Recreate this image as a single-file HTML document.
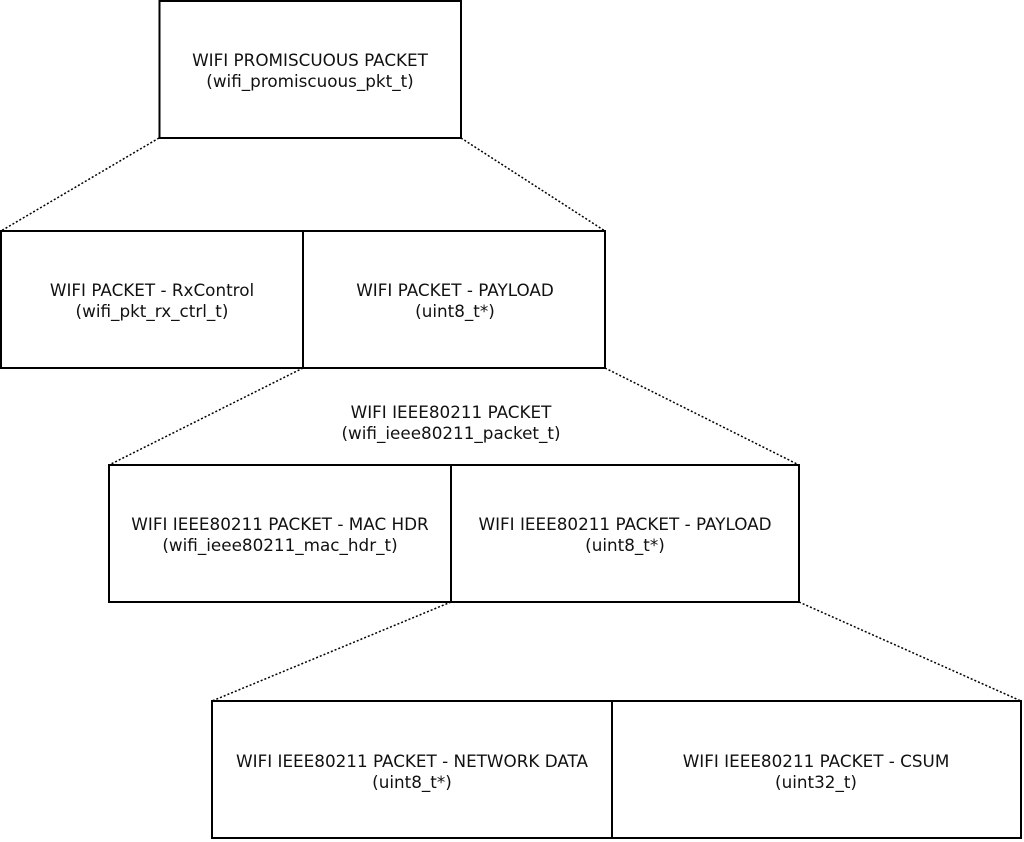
<!DOCTYPE html>
<html><head><style>
html,body{margin:0;padding:0;background:#fff;}
svg{display:block;}
text{font-family:"DejaVu Sans","Liberation Sans",sans-serif;font-size:16.8px;fill:#111;text-anchor:middle;}
</style></head><body>
<svg width="1024" height="842" viewBox="0 0 1024 842" xmlns="http://www.w3.org/2000/svg">
<g fill="none" stroke="#000" stroke-width="2">
<rect x="159.5" y="1" width="301.5" height="137"/>
<rect x="1" y="231" width="302" height="137"/>
<rect x="303" y="231" width="302" height="137"/>
<rect x="109" y="465" width="342" height="137"/>
<rect x="451" y="465" width="348" height="137"/>
<rect x="212" y="701" width="400" height="137"/>
<rect x="612" y="701" width="409" height="137"/>
</g>
<g stroke="#000" stroke-width="1.5" stroke-dasharray="2,2" fill="none">
<line x1="159" y1="138" x2="1" y2="231"/>
<line x1="461" y1="138" x2="605" y2="231"/>
<line x1="303" y1="368" x2="109" y2="465"/>
<line x1="605" y1="368" x2="799" y2="465"/>
<line x1="451" y1="602" x2="212" y2="701"/>
<line x1="799" y1="602" x2="1021" y2="701"/>
</g>
<text x="310" y="66">WIFI PROMISCUOUS PACKET</text>
<text x="310" y="87">(wifi_promiscuous_pkt_t)</text>
<text x="152" y="296">WIFI PACKET - RxControl</text>
<text x="152" y="317">(wifi_pkt_rx_ctrl_t)</text>
<text x="455" y="296">WIFI PACKET - PAYLOAD</text>
<text x="455" y="317">(uint8_t*)</text>
<text x="451" y="418">WIFI IEEE80211 PACKET</text>
<text x="451" y="439">(wifi_ieee80211_packet_t)</text>
<text x="280" y="530">WIFI IEEE80211 PACKET - MAC HDR</text>
<text x="280" y="551">(wifi_ieee80211_mac_hdr_t)</text>
<text x="625" y="530">WIFI IEEE80211 PACKET - PAYLOAD</text>
<text x="625" y="551">(uint8_t*)</text>
<text x="412" y="767">WIFI IEEE80211 PACKET - NETWORK DATA</text>
<text x="412" y="788">(uint8_t*)</text>
<text x="816" y="767">WIFI IEEE80211 PACKET - CSUM</text>
<text x="816" y="788">(uint32_t)</text>
</svg>
</body></html>
